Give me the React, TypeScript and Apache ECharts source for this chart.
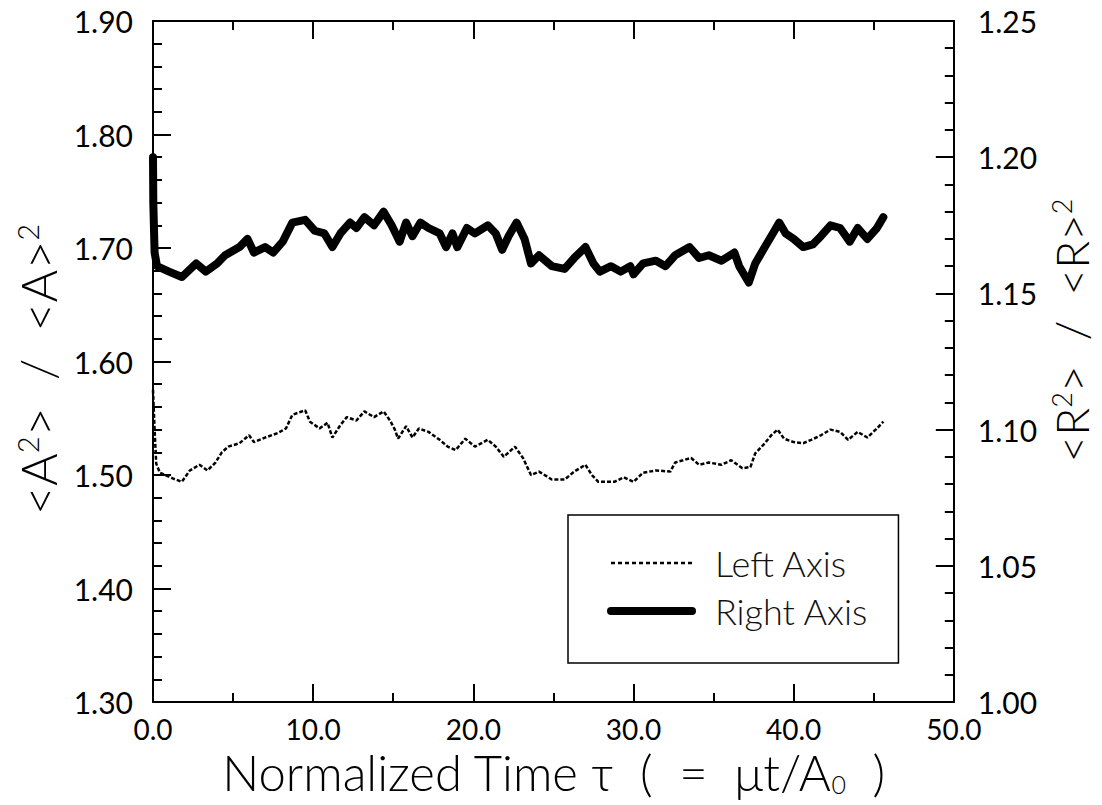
import React, { useEffect, useRef } from "react";
import * as echarts from "echarts";

// Axis ranges
const X_MIN = 0;
const X_MAX = 50;
const X_STEP = 10;
const LEFT_MIN = 1.3;
const LEFT_MAX = 1.9;
const LEFT_STEP = 0.1;
const RIGHT_MIN = 1.0;
const RIGHT_MAX = 1.25;
const RIGHT_STEP = 0.05;

const seriesNames = ["Left Axis", "Right Axis"];

// <A^2>/<A>^2 against normalized time tau, [tau, value]
const leftAxisSeries: [number, number][] = [
  [0, 1.575], [0.1, 1.54], [0.2, 1.51], [0.43, 1.502], [1.23, 1.497], [1.8, 1.494],
  [2.3, 1.504], [2.9, 1.509], [3.4, 1.504], [3.9, 1.511], [4.3, 1.52], [4.7, 1.525],
  [5.4, 1.528], [6.0, 1.535], [6.3, 1.529], [7.0, 1.533], [7.8, 1.537], [8.3, 1.541],
  [8.7, 1.553], [9.5, 1.557], [9.8, 1.547], [10.4, 1.541], [10.9, 1.546], [11.2, 1.533],
  [11.7, 1.544], [12.1, 1.551], [12.7, 1.548], [13.2, 1.556], [13.8, 1.551], [14.4, 1.556],
  [14.8, 1.548], [15.1, 1.54], [15.3, 1.532], [15.8, 1.543], [16.2, 1.533], [16.6, 1.541],
  [17.2, 1.538], [17.9, 1.531], [18.4, 1.525], [18.9, 1.522], [19.5, 1.532], [20.1, 1.525],
  [20.9, 1.531], [21.4, 1.525], [21.9, 1.516], [22.6, 1.525], [23.1, 1.515], [23.6, 1.5],
  [24.1, 1.503], [24.9, 1.496], [25.7, 1.496], [26.3, 1.503], [27.0, 1.509], [27.4, 1.5],
  [27.8, 1.494], [28.8, 1.494], [29.4, 1.498], [30.0, 1.494], [30.6, 1.502], [31.4, 1.504],
  [32.3, 1.503], [32.6, 1.511], [33.6, 1.515], [34.1, 1.509], [34.7, 1.511], [35.5, 1.509],
  [36.1, 1.513], [36.8, 1.506], [37.3, 1.507], [37.6, 1.519], [38.2, 1.528], [38.6, 1.535],
  [39.0, 1.54], [39.4, 1.532], [40.0, 1.529], [40.6, 1.528], [41.1, 1.531], [41.7, 1.535],
  [42.3, 1.54], [42.9, 1.538], [43.4, 1.531], [44.0, 1.538], [44.6, 1.533], [45.2, 1.541],
  [45.6, 1.547],
];

// <R^2>/<R>^2 against normalized time tau, [tau, value]
const rightAxisSeries: [number, number][] = [
  [0, 1.2], [0.02, 1.183], [0.1, 1.165], [0.25, 1.16], [1.0, 1.158], [1.8, 1.156],
  [2.7, 1.161], [3.3, 1.158], [4.0, 1.161], [4.5, 1.164], [5.4, 1.167], [5.9, 1.17],
  [6.3, 1.165], [7.0, 1.167], [7.5, 1.165], [8.1, 1.169], [8.7, 1.176], [9.5, 1.177],
  [10.1, 1.173], [10.7, 1.172], [11.2, 1.167], [11.7, 1.172], [12.3, 1.176], [12.7, 1.174],
  [13.2, 1.178], [13.8, 1.175], [14.4, 1.18], [14.9, 1.175], [15.4, 1.169], [15.8, 1.176],
  [16.2, 1.171], [16.7, 1.176], [17.2, 1.174], [17.9, 1.172], [18.3, 1.167], [18.7, 1.172],
  [19.0, 1.167], [19.6, 1.174], [20.1, 1.172], [20.9, 1.175], [21.4, 1.172], [21.8, 1.166],
  [22.2, 1.171], [22.7, 1.176], [23.2, 1.17], [23.6, 1.161], [24.1, 1.164], [24.9, 1.16],
  [25.7, 1.159], [26.3, 1.163], [27.0, 1.167], [27.5, 1.161], [27.9, 1.158], [28.6, 1.16],
  [29.2, 1.158], [29.8, 1.16], [30.0, 1.157], [30.6, 1.161], [31.4, 1.162], [32.0, 1.16],
  [32.6, 1.164], [33.5, 1.167], [34.1, 1.163], [34.7, 1.164], [35.5, 1.162], [36.3, 1.165],
  [36.6, 1.16], [37.2, 1.154], [37.6, 1.161], [38.2, 1.167], [38.7, 1.172], [39.1, 1.176],
  [39.5, 1.172], [40.0, 1.17], [40.6, 1.167], [41.2, 1.168], [41.7, 1.171], [42.3, 1.175],
  [42.9, 1.174], [43.5, 1.169], [44.0, 1.174], [44.6, 1.17], [45.2, 1.174], [45.6, 1.178],
];

const FONT = "Lato, 'Liberation Sans', Arial, sans-serif";
const LIGHT = 300;
const INK = "#000";

const tickStyle = { color: INK, width: 2 };

const titleStyle = (size: number, padding: number[]) => ({
  color: INK,
  fontSize: size,
  fontFamily: FONT,
  fontWeight: LIGHT,
  padding,
  rich: {
    sup: {
      fontSize: Math.round(size * 0.58),
      fontFamily: FONT,
      fontWeight: LIGHT,
      color: INK,
      verticalAlign: "top",
      padding: [0, 0, Math.round(size * 0.4), 0],
    },
    sub: {
      fontSize: Math.round(size * 0.5),
      fontFamily: FONT,
      fontWeight: LIGHT,
      color: INK,
      verticalAlign: "bottom",
      padding: [Math.round(size * 0.3), 0, 0, 0],
    },
  },
});

const tickLabel = (digits: number, size: number, margin: number) => ({
  color: INK,
  fontSize: size,
  margin,
  fontFamily: FONT,
  fontWeight: 400,
  formatter: (v: number) => v.toFixed(digits),
});

export default function App() {
  const ref = useRef<HTMLDivElement>(null);

  useEffect(() => {
    if (!ref.current) return;
    const chart = echarts.init(ref.current, null, { renderer: "svg" });

    const frameAxis = {
      axisLine: { show: true, onZero: false, lineStyle: { color: INK, width: 2 } },
      axisTick: { show: true, inside: true, length: 18, lineStyle: tickStyle },
      splitLine: { show: false },
    };

    chart.setOption({
      animation: false,
      backgroundColor: "#fff",
      textStyle: { fontFamily: FONT },
      grid: { left: 153, right: 137, top: 21, bottom: 103 },
      legend: {
        left: 568,
        top: 515,
        orient: "vertical",
        borderColor: INK,
        borderWidth: 1.5,
        padding: [29, 30, 33, 39],
        itemWidth: 81,
        itemHeight: 14,
        itemGap: 10,
        textStyle: {
          fontSize: 36,
          color: "#111",
          fontFamily: FONT,
          fontWeight: LIGHT,
          lineHeight: 38,
          padding: [0, 0, 0, 18],
        },
        data: [
          {
            name: seriesNames[0],
            lineStyle: { width: 2.5, type: [4, 3], color: INK },
            itemStyle: { opacity: 0 },
          },
          {
            name: seriesNames[1],
            lineStyle: { width: 8, type: "solid", color: INK },
            itemStyle: { opacity: 0 },
          },
        ],
      },
      xAxis: [
        {
          type: "value",
          position: "bottom",
          min: X_MIN,
          max: X_MAX,
          interval: X_STEP,
          ...frameAxis,
          minorTick: { show: true, splitNumber: 2, length: 9, lineStyle: tickStyle },
          axisLabel: tickLabel(1, 28, 13),
          name: "Normalized Time τ  (  =  μt/A{sub|0}  )",
          nameLocation: "middle",
          nameGap: 44,
          nameTextStyle: titleStyle(49, [0, 0, 0, 0]),
        },
        {
          type: "value",
          position: "top",
          min: X_MIN,
          max: X_MAX,
          interval: X_STEP,
          ...frameAxis,
          minorTick: { show: true, splitNumber: 2, length: 9, lineStyle: tickStyle },
          axisLabel: { show: false },
        },
      ],
      yAxis: [
        {
          type: "value",
          position: "left",
          min: LEFT_MIN,
          max: LEFT_MAX,
          interval: LEFT_STEP,
          ...frameAxis,
          minorTick: { show: true, splitNumber: 5, length: 9, lineStyle: tickStyle },
          axisLabel: tickLabel(2, 30, 20),
          name: "<A{sup|2}>  /  <A>{sup|2}",
          nameLocation: "middle",
          nameGap: 86,
          nameTextStyle: titleStyle(50, [0, 16, 0, 0]),
        },
        {
          type: "value",
          position: "right",
          min: RIGHT_MIN,
          max: RIGHT_MAX,
          interval: RIGHT_STEP,
          ...frameAxis,
          minorTick: { show: true, splitNumber: 5, length: 9, lineStyle: tickStyle },
          axisLabel: tickLabel(2, 30, 24),
          name: "<R{sup|2}>  /  <R>{sup|2}",
          nameLocation: "middle",
          nameGap: 90,
          nameRotate: 90,
          nameTextStyle: titleStyle(46, [0, 0, 0, 62]),
        },
      ],
      series: [
        {
          name: seriesNames[0],
          type: "line",
          xAxisIndex: 0,
          yAxisIndex: 0,
          data: leftAxisSeries,
          symbol: "none",
          itemStyle: { color: INK },
          lineStyle: { color: INK, width: 2.5, type: [4, 2] },
          z: 3,
        },
        {
          name: seriesNames[1],
          type: "line",
          xAxisIndex: 0,
          yAxisIndex: 1,
          data: rightAxisSeries,
          symbol: "none",
          itemStyle: { color: INK },
          lineStyle: { color: INK, width: 8, join: "round", cap: "round" },
          z: 2,
        },
      ],
    });

    return () => chart.dispose();
  }, []);

  return (
    <div
      ref={ref}
      style={{ position: "fixed", left: 0, top: 0, width: 1102, height: 805, background: "#fff" }}
    />
  );
}
